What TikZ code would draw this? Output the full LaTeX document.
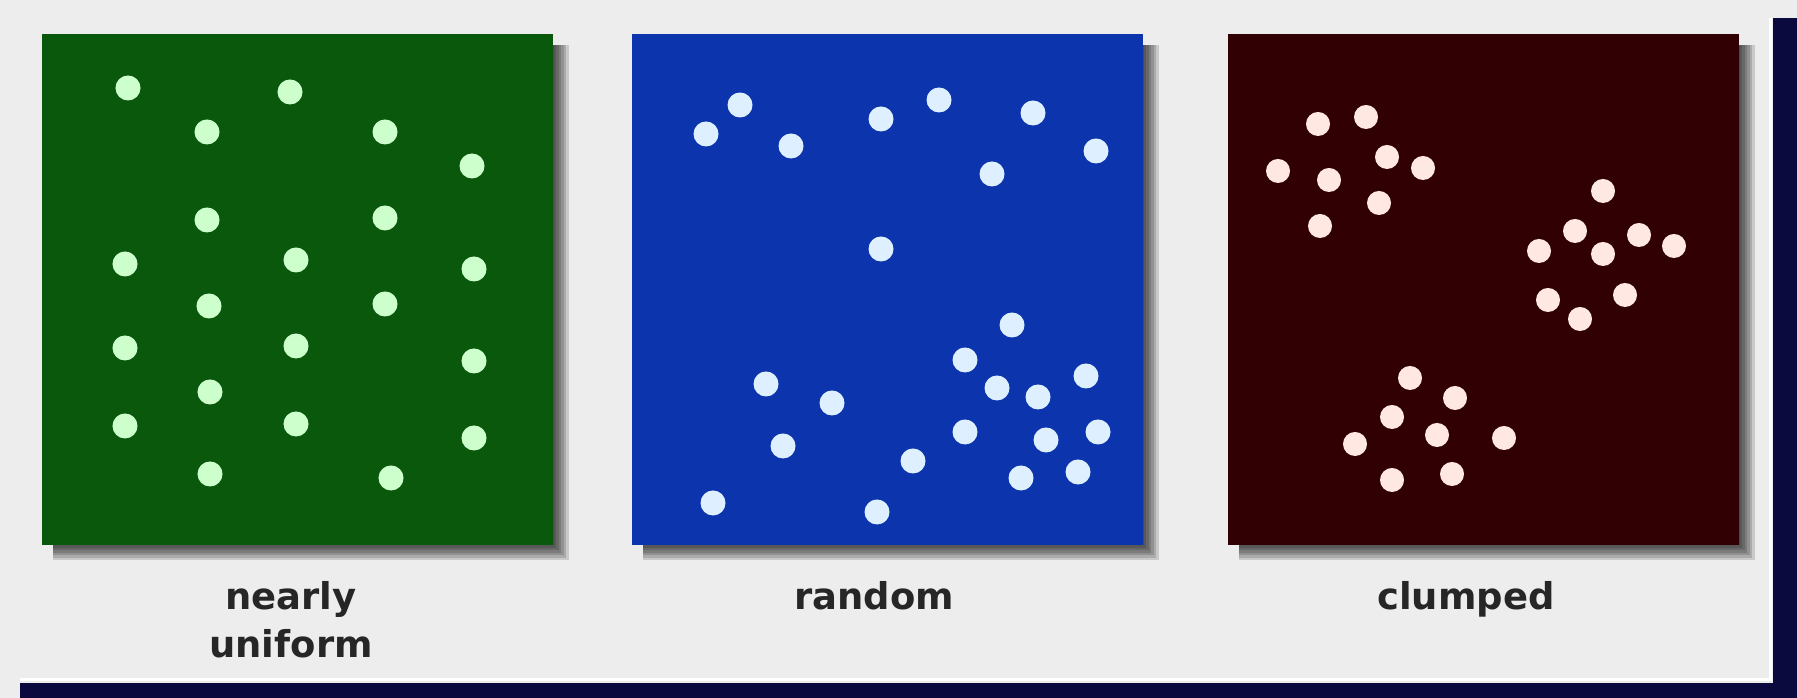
\documentclass[tikz,border=0pt]{standalone}
\usepackage{fontspec}
\setmainfont{DejaVu Sans}
\usetikzlibrary{positioning}

\definecolor{bggray}{RGB}{237,237,237}
\definecolor{framenavy}{RGB}{10,10,62}
\definecolor{uniformgreen}{RGB}{10,88,12}
\definecolor{randomblue}{RGB}{12,52,172}
\definecolor{clumpedmaroon}{RGB}{48,0,2}
\definecolor{greendot}{RGB}{205,255,205}
\definecolor{bluedot}{RGB}{222,240,255}
\definecolor{pinkdot}{RGB}{255,232,226}
\definecolor{labelgray}{RGB}{38,38,38}

\begin{document}
\begin{tikzpicture}[
  x=0.01cm, y=-0.01cm,
  panel/.style={minimum width=5.11cm, minimum height=5.11cm, inner sep=0pt, anchor=north west},
  caption/.style={font=\fontsize{10.5}{13.7}\selectfont\bfseries, text=labelgray, align=center, inner sep=0pt, anchor=base},
  shade/.style={fill=black, opacity=0.15},
  spot/.style={radius=0.125cm}
]
\useasboundingbox (0,0) rectangle (1797,698);
\fill[bggray] (0,0) rectangle (1797,698);

% frame
\draw[white, line width=0.03cm] (20,680) -- (1770,680) -- (1770,18);
\fill[framenavy] (1773,18) rectangle (1797,698);
\fill[framenavy] (20,683) rectangle (1797,698);

% shadows
\foreach \px in {41,631,1227}
  \foreach \k in {1,...,7}
    \fill[shade] (\px+12,45) rectangle (\px+510+2.5*\k,543+2.5*\k);

% panels
\node[panel, fill=uniformgreen] (uniform) at (41,33) {};
\node[panel, fill=randomblue] (random) at (631,33) {};
\node[panel, fill=clumpedmaroon] (clumped) at (1227,33) {};

% dots
\foreach \x/\y in {128/88, 290/92, 207/132, 385/132, 472/166, 207/220, 385/218,
  125/264, 296/260, 474/269, 209/306, 385/304, 125/348, 296/346, 474/361,
  210/392, 125/426, 296/424, 474/438, 210/474, 391/478}
  \fill[greendot] (\x,\y) circle[spot];

\foreach \x/\y in {706/134, 740/105, 791/146, 881/119, 939/100, 1033/113, 1096/151,
  992/174, 881/249, 1012/325, 965/360, 997/388, 1038/397, 1086/376, 766/384,
  832/403, 783/446, 965/432, 1046/440, 1098/432, 913/461, 1021/478, 1078/472,
  713/503, 877/512}
  \fill[bluedot] (\x,\y) circle[spot];

\foreach \x/\y in {1318/124, 1366/117, 1387/157, 1423/168, 1278/171, 1329/180, 1379/203, 1320/226,
  1603/191, 1575/231, 1639/235, 1539/251, 1603/254, 1674/246, 1548/300, 1625/295, 1580/319,
  1410/378, 1455/398, 1392/417, 1437/435, 1504/438, 1355/444, 1392/480, 1452/474}
  \fill[pinkdot] (\x,\y) circle[radius=0.12cm];

% captions
\node[caption] (uniformtext) at (291,658) {nearly\\uniform};
\node[caption] (randomtext) at (874,610) {random};
\node[caption] (clumpedtext) at (1466,610) {clumped};

\end{tikzpicture}
\end{document}
